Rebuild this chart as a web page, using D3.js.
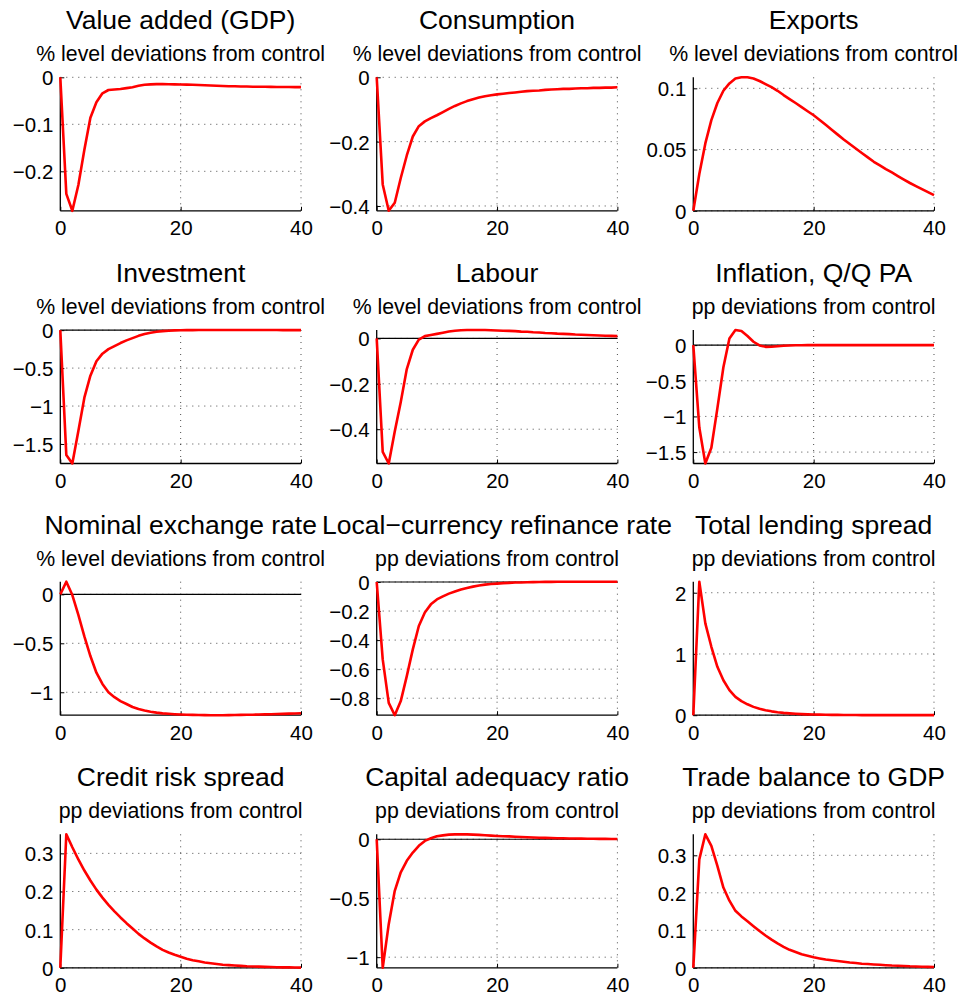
<!DOCTYPE html>
<html>
<head>
<meta charset="utf-8">
<script src="https://cdn.jsdelivr.net/npm/d3@7"></script>
<style>
  body { margin: 0; background: #fff; }
  svg text { font-family: "Liberation Sans", Arial, Helvetica, sans-serif; fill: #000; }
</style>
</head>
<body>
<svg id="irf" width="965" height="1001"></svg>
<script>
// panel titles, row by row
var titles = ["Value added (GDP)", "Consumption", "Exports",
    "Investment", "Labour", "Inflation, Q/Q PA",
    "Nominal exchange rate", "Local\u2212currency refinance rate", "Total lending spread",
    "Credit risk spread", "Capital adequacy ratio", "Trade balance to GDP"]
var subtitles = ["% level deviations from control", "% level deviations from control", "% level deviations from control",
    "% level deviations from control", "% level deviations from control", "pp deviations from control",
    "% level deviations from control", "pp deviations from control", "pp deviations from control",
    "pp deviations from control", "pp deviations from control", "pp deviations from control"]

// quarters 0..40
var quarters = d3.range(0, 41)
var xTicks = [0, 20, 40]

// responses, one value per quarter
var gdp = [0, -0.248, -0.284, -0.229, -0.154, -0.086, -0.053, -0.034, -0.027, -0.026, -0.025, -0.023, -0.021, -0.018, -0.016, -0.015, -0.0145, -0.0145, -0.0148, -0.015, -0.0152,
    -0.0155, -0.016, -0.0165, -0.017, -0.0175, -0.018, -0.0185, -0.019, -0.0192, -0.0195, -0.0197, -0.02, -0.02, -0.0202, -0.0204, -0.0205, -0.0206, -0.0207, -0.0208, -0.021]
var consumption = [0, -0.333, -0.415, -0.39, -0.313, -0.243, -0.184, -0.152, -0.137, -0.127, -0.118, -0.108, -0.098, -0.089, -0.081, -0.074, -0.068, -0.063, -0.059, -0.056, -0.053,
    -0.051, -0.049, -0.047, -0.045, -0.043, -0.042, -0.041, -0.039, -0.038, -0.037, -0.036, -0.036, -0.035, -0.034, -0.034, -0.033, -0.033, -0.032, -0.032, -0.031]
var exports = [0, 0.03, 0.055, 0.074, 0.088, 0.098, 0.104, 0.108, 0.109, 0.109, 0.108, 0.106, 0.1035, 0.101, 0.098, 0.0945, 0.0912, 0.088, 0.0847, 0.0813, 0.078,
    0.0742, 0.0702, 0.0662, 0.0622, 0.0582, 0.0545, 0.0508, 0.0472, 0.0436, 0.040, 0.037, 0.034, 0.0313, 0.0284, 0.0255, 0.0227, 0.0202, 0.0177, 0.0152, 0.0128]
var investment = [0, -1.646, -1.757, -1.33, -0.89, -0.60, -0.41, -0.31, -0.25, -0.21, -0.17, -0.135, -0.105, -0.075, -0.052, -0.035, -0.022, -0.013, -0.007, -0.003, -0.001,
    0, 0.001, 0.002, 0.002, 0.002, 0.002, 0.002, 0.002, 0.002, 0.002, 0.002, 0.002, 0.0015, 0.0015, 0.0015, 0.0015, 0.001, 0.001, 0.001, 0.001]
var labour = [0, -0.50, -0.551, -0.41, -0.28, -0.135, -0.05, -0.005, 0.01, 0.015, 0.02, 0.025, 0.03, 0.034, 0.036, 0.037, 0.037, 0.037, 0.037, 0.036, 0.035,
    0.034, 0.033, 0.032, 0.030, 0.029, 0.027, 0.026, 0.024, 0.023, 0.021, 0.020, 0.019, 0.017, 0.016, 0.015, 0.014, 0.013, 0.012, 0.011, 0.010]
var inflation = [0, -1.156, -1.66, -1.44, -0.887, -0.31, 0.094, 0.212, 0.198, 0.127, 0.047, -0.005, -0.024, -0.022, -0.015, -0.009, -0.005, -0.002, -0.001, 0, 0,
    0, 0, 0, 0, 0, 0, 0, 0, 0, 0, 0, 0, 0, 0, 0, 0, 0, 0, 0, 0]
var exchangeRate = [0, 0.129, -0.007, -0.21, -0.43, -0.63, -0.80, -0.915, -1.0, -1.05, -1.09, -1.12, -1.15, -1.17, -1.186, -1.198, -1.208, -1.215, -1.22, -1.224, -1.227,
    -1.229, -1.231, -1.232, -1.233, -1.234, -1.234, -1.234, -1.233, -1.232, -1.231, -1.23, -1.229, -1.227, -1.226, -1.224, -1.222, -1.22, -1.218, -1.216, -1.214]
var refinanceRate = [0, -0.533, -0.832, -0.917, -0.82, -0.648, -0.464, -0.303, -0.21, -0.154, -0.12, -0.099, -0.080, -0.065, -0.051, -0.041, -0.032, -0.024, -0.018, -0.014, -0.011,
    -0.008, -0.006, -0.004, -0.003, -0.002, -0.001, 0, 0.0005, 0.001, 0.0015, 0.002, 0.002, 0.002, 0.002, 0.002, 0.002, 0.002, 0.002, 0.002, 0.002]
var lendingSpread = [0, 2.18, 1.50, 1.117, 0.79, 0.57, 0.41, 0.30, 0.229, 0.178, 0.136, 0.105, 0.082, 0.063, 0.049, 0.038, 0.030, 0.023, 0.018, 0.014, 0.012,
    0.010, 0.008, 0.006, 0.005, 0.004, 0.003, 0.003, 0.002, 0.002, 0.001, 0.001, 0.001, 0.001, 0.001, 0.0005, 0.0005, 0.0005, 0.0005, 0.0005, 0.0005]
var creditRisk = [0, 0.35, 0.316, 0.284, 0.255, 0.229, 0.205, 0.184, 0.165, 0.148, 0.132, 0.117, 0.103, 0.089, 0.077, 0.066, 0.056, 0.047, 0.040, 0.034, 0.029,
    0.024, 0.02, 0.017, 0.014, 0.012, 0.010, 0.008, 0.007, 0.006, 0.005, 0.004, 0.0035, 0.003, 0.0025, 0.002, 0.0016, 0.0012, 0.001, 0.0007, 0.0005]
var capitalRatio = [0, -1.09, -0.72, -0.437, -0.28, -0.183, -0.113, -0.056, -0.014, 0.008, 0.025, 0.033, 0.039, 0.041, 0.042, 0.041, 0.039, 0.037, 0.034, 0.031, 0.028,
    0.026, 0.024, 0.021, 0.019, 0.017, 0.015, 0.013, 0.012, 0.010, 0.009, 0.008, 0.007, 0.006, 0.005, 0.004, 0.004, 0.003, 0.003, 0.002, 0.002]
var tradeBalance = [0, 0.289, 0.356, 0.325, 0.272, 0.214, 0.179, 0.152, 0.137, 0.124, 0.111, 0.098, 0.086, 0.075, 0.065, 0.056, 0.048, 0.042, 0.036, 0.032, 0.028,
    0.025, 0.022, 0.020, 0.018, 0.016, 0.014, 0.013, 0.011, 0.010, 0.009, 0.008, 0.007, 0.006, 0.0055, 0.005, 0.004, 0.0035, 0.003, 0.0025, 0.002]

var series = [gdp, consumption, exports, investment, labour, inflation,
    exchangeRate, refinanceRate, lendingSpread, creditRisk, capitalRatio, tradeBalance]

// y tick labels per panel
var yTicks = [[0, -0.1, -0.2], [0, -0.2, -0.4], [0, 0.05, 0.1],
    [0, -0.5, -1, -1.5], [0, -0.2, -0.4], [0, -0.5, -1, -1.5],
    [0, -0.5, -1], [0, -0.2, -0.4, -0.6, -0.8], [0, 1, 2],
    [0, 0.1, 0.2, 0.3], [0, -0.5, -1], [0, 0.1, 0.2, 0.3]]

// layout
var colLeft = [60.3, 376.7, 693.3],
    rowTop = [77.3, 330, 581.7, 834.3],
    width = 240.7,
    height = 133.5

var svg = d3.select("#irf")
var fmt = d3.format("")

var x = d3.scaleLinear().domain([0, 40]).range([0, width])

series.forEach(function(values, i) {
    var col = i % 3, row = Math.floor(i / 3)
    var g = svg.append("g")
        .attr("transform", "translate(" + colLeft[col] + "," + rowTop[row] + ")")

    // axis tight, like matlab
    var y = d3.scaleLinear().domain(d3.extent(values)).range([height, 0])

    // titles
    g.append("text")
        .attr("x", width / 2).attr("y", -48)
        .attr("text-anchor", "middle")
        .style("font-size", "26.5px")
        .text(titles[i])
    g.append("text")
        .attr("x", width / 2).attr("y", -16)
        .attr("text-anchor", "middle")
        .style("font-size", "21.3px")
        .text(subtitles[i])

    // dotted grid
    g.append("g").selectAll("line")
        .data(yTicks[i]).enter().append("line")
        .attr("x1", 0).attr("x2", width)
        .attr("y1", d => y(d)).attr("y2", d => y(d))
        .attr("stroke", "#000").attr("stroke-width", 1)
        .attr("stroke-dasharray", "1,5").attr("opacity", 0.7)
    g.append("g").selectAll("line")
        .data(xTicks.slice(1)).enter().append("line")
        .attr("x1", d => x(d)).attr("x2", d => x(d))
        .attr("y1", 0).attr("y2", height)
        .attr("stroke", "#000").attr("stroke-width", 1)
        .attr("stroke-dasharray", "1,5").attr("opacity", 0.7)

    // zero line when zero sits inside the range
    var ext = y.domain()
    if (ext[0] < 0 && ext[1] > 0) {
        g.append("line")
            .attr("x1", 0).attr("x2", width)
            .attr("y1", y(0)).attr("y2", y(0))
            .attr("stroke", "#000").attr("stroke-width", 1.2)
    }

    // axes
    var xAxis = g.append("g")
        .attr("transform", "translate(0," + height + ")")
        .call(d3.axisBottom(x).tickValues(xTicks).tickSize(-4).tickPadding(10).tickFormat(fmt))
    var yAxis = g.append("g")
        .call(d3.axisLeft(y).tickValues(yTicks[i]).tickSize(-4).tickPadding(7).tickFormat(fmt))
    xAxis.select(".domain").attr("d", "M0,0H" + width).attr("stroke-width", 1.3)
    yAxis.select(".domain").attr("d", "M0,0V" + height).attr("stroke-width", 1.3)
    xAxis.selectAll("text").style("font-size", "20.5px").attr("dy", "0.71em")
    yAxis.selectAll("text").style("font-size", "20.5px").attr("dy", "0.36em")

    // response line
    g.append("path")
        .datum(values)
        .attr("fill", "none")
        .attr("stroke", "#ff0000")
        .attr("stroke-width", 2.6)
        .attr("stroke-linejoin", "round")
        .attr("d", d3.line().x((d, k) => x(quarters[k])).y(d => y(d)))
})
</script>
</body>
</html>
